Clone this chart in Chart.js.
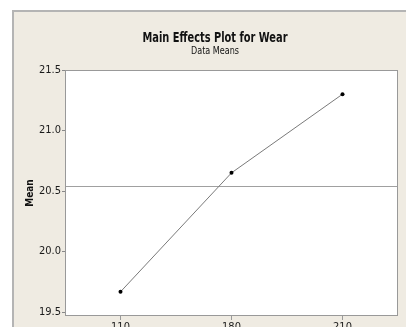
<!DOCTYPE html>
<html>
<head>
<meta charset="utf-8">
<script src="https://cdn.jsdelivr.net/npm/chart.js@4.4.1/dist/chart.umd.min.js"></script>
<style>
  html, body { margin: 0; padding: 0; background: #fff; }
  #wrap { width: 406px; height: 327px; }
</style>
</head>
<body>
<div id="wrap"><canvas id="myChart" width="406" height="327"></canvas></div>
<script>
// factor levels and the data means
var levels = ['110', '180', '210'];
var means = [19.667, 20.65, 21.30];
var grandMean = [20.54];
var yTicks = [19.5, 20.0, 20.5, 21.0, 21.5];

var fontFam = '"DejaVu Sans Condensed", "DejaVu Sans", sans-serif';

// beige panel, white plot area, frame, title and the grand mean line
var panelPlugin = {
    id: 'panel',
    beforeDraw: function (chart) {
        var ctx = chart.ctx;
        var a = chart.chartArea;
        ctx.save();
        ctx.fillStyle = '#efebe2';
        ctx.fillRect(13, 10, chart.width - 13, chart.height - 10);
        ctx.strokeStyle = '#b4b4b4';
        ctx.lineWidth = 2;
        ctx.beginPath();
        ctx.moveTo(13, chart.height);
        ctx.lineTo(13, 11);
        ctx.lineTo(chart.width, 11);
        ctx.stroke();
        ctx.fillStyle = '#ffffff';
        ctx.fillRect(a.left, a.top, a.right - a.left, a.bottom - a.top);
        ctx.restore();
    },
    beforeDatasetsDraw: function (chart) {
        var ctx = chart.ctx;
        var a = chart.chartArea;
        var y = chart.scales.y.getPixelForValue(grandMean[0]);
        ctx.save();
        ctx.strokeStyle = '#a0a0a0';
        ctx.lineWidth = 1;
        ctx.beginPath();
        ctx.moveTo(a.left, Math.round(y) + 0.5);
        ctx.lineTo(a.right, Math.round(y) + 0.5);
        ctx.stroke();
        ctx.restore();
    },
    afterDraw: function (chart) {
        var ctx = chart.ctx;
        var a = chart.chartArea;
        ctx.save();
        ctx.strokeStyle = '#999999';
        ctx.lineWidth = 1;
        ctx.strokeRect(a.left + 0.5, a.top + 0.5, a.right - a.left - 1, a.bottom - a.top - 1);
        ctx.fillStyle = '#111';
        ctx.textAlign = 'center';
        ctx.textBaseline = 'alphabetic';
        ctx.font = 'bold 14px ' + fontFam;
        ctx.fillText('Main Effects Plot for Wear', 215, 42, 145);
        ctx.font = '10px ' + fontFam;
        ctx.fillText('Data Means', 215, 54, 48);
        ctx.restore();
    }
};

var ctx = document.getElementById('myChart').getContext('2d');
var myChart = new Chart(ctx, {
    type: 'line',
    data: {
        labels: levels,
        datasets: [{
            label: 'Mean',
            data: means,
            borderColor: '#7a7a7a',
            borderWidth: 1,
            pointRadius: 2,
            pointBackgroundColor: '#000',
            pointBorderColor: '#000',
            pointBorderWidth: 0,
            tension: 0
        }]
    },
    options: {
        responsive: false,
        animation: false,
        layout: { padding: { left: 13, top: 70, right: 8, bottom: 0 } },
        plugins: {
            legend: { display: false },
            tooltip: { enabled: false }
        },
        scales: {
            x: {
                type: 'category',
                offset: true,
                grid: { display: true, drawOnChartArea: false, tickLength: 4, color: '#999', offset: false },
                border: { display: false },
                ticks: { color: '#222', padding: 1, font: { family: fontFam, size: 11 } },
                afterFit: function (scale) { scale.height = 11; }
            },
            y: {
                min: 19.467,
                max: 21.5,
                afterBuildTicks: function (scale) {
                    scale.ticks = yTicks.map(function (v) { return { value: v }; });
                },
                grid: { display: true, drawOnChartArea: false, tickLength: 3, color: '#888' },
                border: { display: false },
                ticks: {
                    color: '#1a1a1a',
                    padding: 1,
                    font: { family: fontFam, size: 11 },
                    callback: function (v) { return Number(v).toFixed(1); }
                },
                title: {
                    display: true,
                    text: 'Mean',
                    color: '#111',
                    font: { family: fontFam, size: 10, weight: 'bold' },
                    padding: { top: 11, bottom: 0 }
                },
                afterFit: function (scale) { scale.width = 52; }
            }
        }
    },
    plugins: [panelPlugin]
});
</script>
</body>
</html>
